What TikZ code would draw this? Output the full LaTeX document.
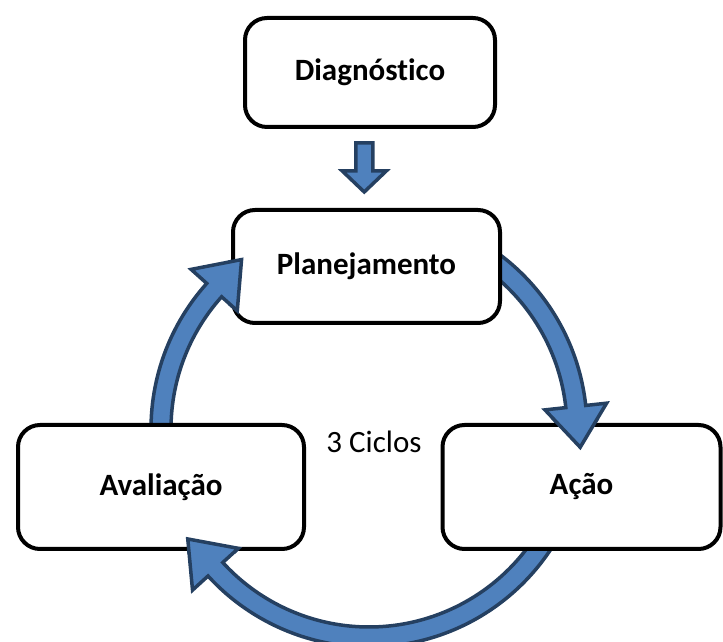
\documentclass[tikz,border=0pt]{standalone}
\usepackage{fontspec}
\setmainfont{Carlito}[Ligatures=NoCommon]
\usetikzlibrary{calc}
\definecolor{setaazul}{RGB}{79,129,189}
\definecolor{setaborda}{RGB}{37,64,97}

% curved ring arrow: #1 = tail angle, #2 = angle of the head base
\newcommand{\setaciclo}[2]{%
  \filldraw[seta] ($(centro)+(#1:218)$) arc[start angle=#1, end angle=#2, radius=218]
    -- ($(centro)+(#2:239)$) -- ($(centro)+({#2-11.15}:212)$) -- ($(centro)+(#2:177)$)
    -- ($(centro)+(#2:198)$) arc[start angle=#2, end angle=#1, radius=198] -- cycle;}

\begin{document}
\begin{tikzpicture}[x=1pt,y=1pt,
  caixa/.style={draw, line width=4pt, rounded corners=22pt, fill=white,
    inner sep=0pt, font=\bfseries\fontsize{31}{37}\selectfont},
  seta/.style={fill=setaazul, draw=setaborda, line width=3.5pt, line join=miter}]
  \useasboundingbox (0,0) rectangle (723,642);
  \coordinate (centro) at (369,213);

  % ring arrows, tails under the boxes
  \foreach \a/\b in {58/6.2, 335/222.4, 185/138.1}{
    \setaciclo{\a}{\b}
  }

  % boxes
  \node[caixa, minimum width=250pt, minimum height=109pt] (diag) at (370,569.5) {Diagnóstico};
  \node[caixa, minimum width=267pt, minimum height=113pt] (plan) at (366.5,375.5) {Planejamento};
  \node[caixa, minimum width=286pt, minimum height=124pt] (aval) at (161,155) {Avaliação};
  \node[caixa, minimum width=278pt, minimum height=124pt] (acao) at (581.5,155) {Ação};

  % heads over the boxes
  \foreach \a/\b/\alvo in {58/6.2/acao, 335/222.4/aval, 185/138.1/plan}{
    \begin{scope}
      \clip ([shift={(-3,-3)}]\alvo.south west) rectangle ([shift={(3,3)}]\alvo.north east);
      \setaciclo{\a}{\b}
    \end{scope}
  }

  % block arrow diag -> plan
  \coordinate (meio) at ($(diag.south)!0.5!(plan.north)+(-4,0)$);
  \filldraw[seta, shift={(meio)}] (-8.5,25.5) -- (8.5,25.5) -- (8.5,-2.5) -- (22,-2.5)
    -- (0,-23.5) -- (-22,-2.5) -- (-8.5,-2.5) -- cycle;

  \node[font=\fontsize{31}{37}\selectfont, anchor=base] (ciclos) at (374,189) {3 Ciclos};
\end{tikzpicture}
\end{document}
